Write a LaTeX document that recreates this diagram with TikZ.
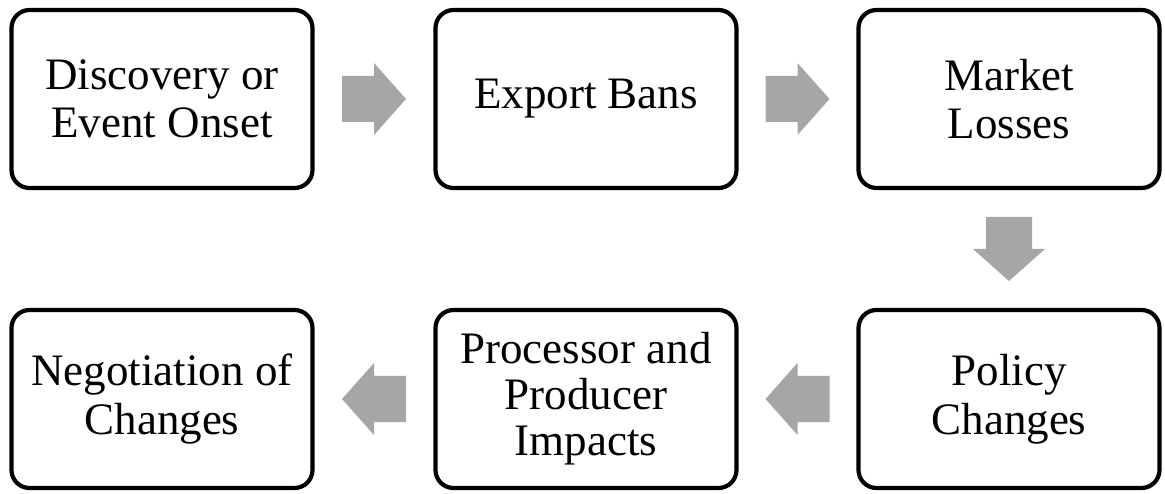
\documentclass[tikz,border=0pt]{standalone}
\usepackage{fontspec}
\setmainfont{Liberation Serif}
\usetikzlibrary{calc}
\definecolor{arrowgray}{HTML}{A6A6A6}
\tikzset{
  stepbox/.style={draw=black, line width=4.2pt, rounded corners=18pt, fill=white,
    minimum width=301pt, minimum height=178pt, inner sep=0pt, align=center,
    font=\fontsize{45}{48.5}\selectfont},
  tightlines/.style={font=\fontsize{45}{46}\selectfont},
  pics/blockarrow/.style={code={
    \fill[arrowgray] (-32,-23) -- (0,-23) -- (0,-36) -- (32,0) -- (0,36) -- (0,23) -- (-32,23) -- cycle;
  }}
}
\begin{document}
\begin{tikzpicture}[x=1pt, y=1pt]
  \useasboundingbox (0,0) rectangle (1165,493);
  % top row (left to right)
  \node[stepbox] (disc) at (162,394) {Discovery or\\Event Onset};
  \node[stepbox] (bans) at (586,394) {Export Bans};
  \node[stepbox] (loss) at (1009,394) {Market\\Losses};
  % bottom row (right to left)
  \node[stepbox] (pol)  at (1009,94) {Policy\\Changes};
  \node[stepbox, tightlines] (imp) at (586,94) {Processor and\\Producer\\Impacts};
  \node[stepbox] (neg)  at (162,94) {Negotiation of\\Changes};
  % block arrows between consecutive steps
  \pic at ($(disc.east)!0.5!(bans.west)$) {blockarrow};
  \pic at ($(bans.east)!0.5!(loss.west)$) {blockarrow};
  \pic[rotate=-90] at ($(loss.south)!0.5!(pol.north)$) {blockarrow};
  \pic[rotate=180] at ($(pol.west)!0.5!(imp.east)$) {blockarrow};
  \pic[rotate=180] at ($(imp.west)!0.5!(neg.east)$) {blockarrow};
\end{tikzpicture}
\end{document}
